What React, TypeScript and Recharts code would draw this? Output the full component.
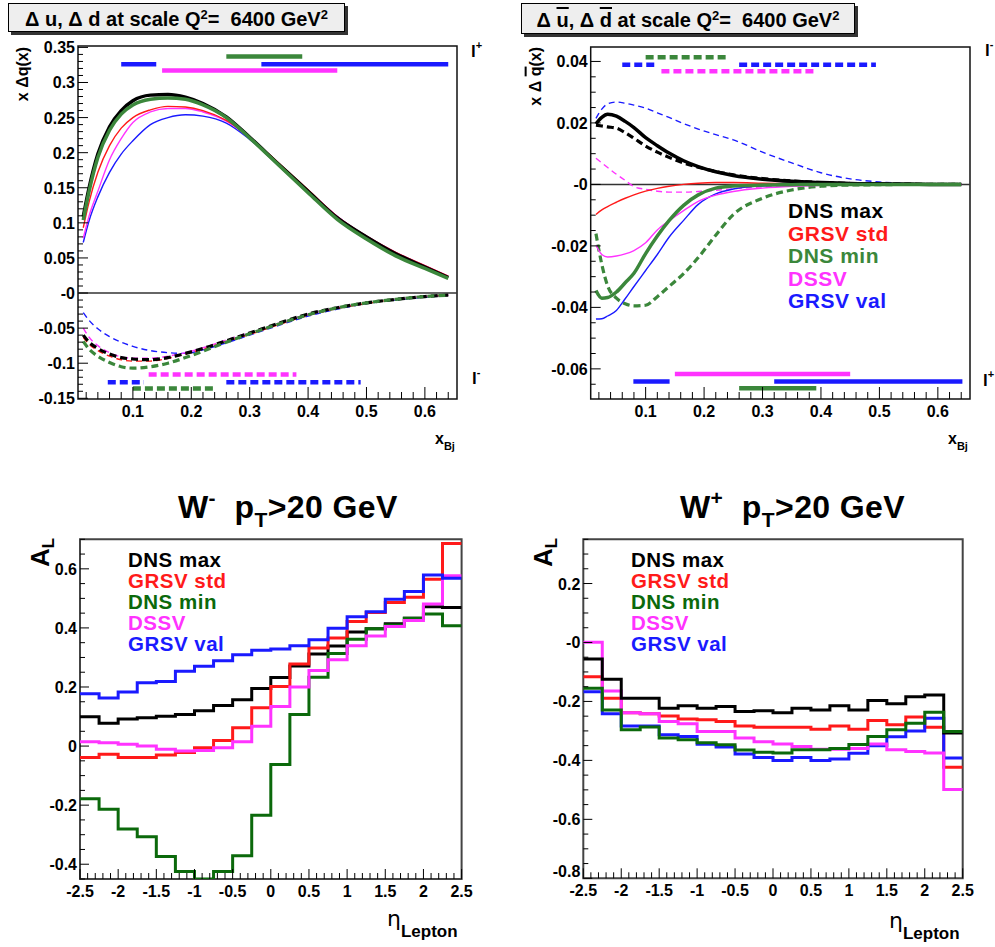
import React from 'react';
import { LineChart, Line, XAxis, YAxis, ReferenceLine, ReferenceArea } from 'recharts';

const FONT = '"Liberation Sans", Arial, Helvetica, sans-serif';

const C_DNSMAX = '#000000';
const C_GRSVSTD = '#ff1a1a';
const C_DNSMIN_TOP = '#3b873b';
const C_DNSMIN_BOT = '#0b690b';
const C_DSSV = '#ff33ff';
const C_GRSVVAL = '#1a1aff';

const LEGEND_NAMES = ['DNS max', 'GRSV std', 'DNS min', 'DSSV', 'GRSV val'];

// ---------------- Top-left: x Δu (solid) and x Δd (dashed) ----------------
const TL_X = [0.015, 0.025, 0.04, 0.06, 0.08, 0.1, 0.13, 0.16, 0.19, 0.22, 0.26, 0.3, 0.35, 0.4, 0.45, 0.5, 0.55, 0.6, 0.64];
const TL_U_DNSMAX = [0.109, 0.15, 0.198, 0.237, 0.26, 0.274, 0.282, 0.283, 0.279, 0.27, 0.251, 0.222, 0.183, 0.145, 0.107, 0.08, 0.056, 0.037, 0.022];
const TL_U_DNSMIN = [0.104, 0.145, 0.193, 0.232, 0.255, 0.268, 0.276, 0.278, 0.276, 0.268, 0.25, 0.221, 0.182, 0.143, 0.105, 0.077, 0.053, 0.035, 0.021];
const TL_U_GRSVSTD = [0.093, 0.13, 0.172, 0.21, 0.235, 0.25, 0.261, 0.266, 0.265, 0.26, 0.246, 0.222, 0.185, 0.147, 0.109, 0.081, 0.058, 0.039, 0.024];
const TL_U_DSSV = [0.078, 0.11, 0.145, 0.19, 0.22, 0.243, 0.258, 0.263, 0.263, 0.258, 0.245, 0.221, 0.184, 0.146, 0.109, 0.081, 0.058, 0.039, 0.024];
const TL_U_GRSVVAL = [0.072, 0.103, 0.137, 0.172, 0.198, 0.217, 0.24, 0.25, 0.254, 0.252, 0.242, 0.219, 0.183, 0.146, 0.109, 0.08, 0.057, 0.038, 0.023];
const TL_D_DNSMAX = [-0.06, -0.07, -0.079, -0.087, -0.092, -0.094, -0.095, -0.092, -0.086, -0.079, -0.068, -0.057, -0.043, -0.03, -0.021, -0.014, -0.009, -0.005, -0.003];
const TL_D_GRSVSTD = [-0.063, -0.073, -0.082, -0.09, -0.095, -0.097, -0.097, -0.093, -0.087, -0.08, -0.069, -0.059, -0.045, -0.032, -0.022, -0.015, -0.009, -0.005, -0.003];
const TL_D_DSSV = [-0.05, -0.063, -0.075, -0.085, -0.091, -0.093, -0.093, -0.09, -0.085, -0.078, -0.067, -0.056, -0.043, -0.03, -0.021, -0.014, -0.009, -0.005, -0.003];
const TL_D_GRSVVAL = [-0.028, -0.039, -0.051, -0.062, -0.07, -0.076, -0.082, -0.085, -0.086, -0.081, -0.071, -0.06, -0.046, -0.033, -0.023, -0.015, -0.01, -0.006, -0.003];
const TL_D_DNSMIN = [-0.069, -0.08, -0.09, -0.099, -0.105, -0.107, -0.105, -0.1, -0.092, -0.083, -0.07, -0.058, -0.044, -0.031, -0.021, -0.014, -0.009, -0.005, -0.003];

// sensitivity ranges [from, to, level]
const TL_LP_GRSVVAL = [[0.08, 0.14, 0.326], [0.32, 0.64, 0.326]];
const TL_LP_DNSMIN = [[0.26, 0.39, 0.337]];
const TL_LP_DSSV = [[0.15, 0.45, 0.317]];
const TL_LM_DSSV = [[0.127, 0.38, -0.116]];
const TL_LM_GRSVVAL = [[0.057, 0.119, -0.127], [0.26, 0.49, -0.127]];
const TL_LM_DNSMIN = [[0.1, 0.24, -0.136]];

// ---------------- Top-right: x Δū (solid) and x Δd̄ (dashed) ----------------
const TR_X = [0.015, 0.025, 0.035, 0.05, 0.065, 0.08, 0.1, 0.12, 0.14, 0.165, 0.19, 0.22, 0.25, 0.3, 0.35, 0.4, 0.45, 0.5, 0.55, 0.6, 0.64];
const TR_UB_DNSMAX = [0.0197, 0.0218, 0.0228, 0.0222, 0.0205, 0.0185, 0.0152, 0.0126, 0.0102, 0.0077, 0.0058, 0.0041, 0.0029, 0.0017, 0.001, 0.0006, 0.0003, 0.0002, 0.0001, 0, 0];
const TR_UB_GRSVSTD = [-0.0098, -0.0083, -0.0072, -0.0058, -0.0045, -0.0034, -0.0022, -0.0013, -0.0006, 0, 0.0004, 0.0006, 0.0006, 0.0004, 0.0002, 0.0001, 0, 0, 0, 0, 0];
const TR_UB_DNSMIN = [-0.0345, -0.037, -0.0368, -0.035, -0.032, -0.0289, -0.0225, -0.0168, -0.0118, -0.0068, -0.0034, -0.0012, -0.0005, -0.0002, -0.0001, 0, 0, 0, 0, 0, 0];
const TR_UB_DSSV = [-0.0198, -0.0228, -0.0236, -0.0233, -0.0226, -0.0215, -0.019, -0.0148, -0.0118, -0.0085, -0.0055, -0.0035, -0.0023, -0.0012, -0.0006, -0.0003, -0.0001, 0, 0, 0, 0];
const TR_UB_GRSVVAL = [-0.0438, -0.0437, -0.0428, -0.041, -0.0372, -0.0332, -0.028, -0.0228, -0.0172, -0.0117, -0.0065, -0.0031, -0.0015, -0.0005, -0.0002, -0.0001, 0, 0, 0, 0, 0];
const TR_DB_DNSMAX = [0.0193, 0.019, 0.0187, 0.0183, 0.0168, 0.015, 0.0125, 0.0105, 0.0088, 0.007, 0.0056, 0.0042, 0.0031, 0.0019, 0.0011, 0.0006, 0.0003, 0.0002, 0.0001, 0, 0];
const TR_DB_DNSMIN = [-0.016, -0.026, -0.033, -0.037, -0.0388, -0.0395, -0.0393, -0.0365, -0.0332, -0.029, -0.0238, -0.0165, -0.0098, -0.0045, -0.0018, -0.0006, -0.0002, -0.0001, 0, 0, 0];
const TR_DB_DSSV = [0.0085, 0.007, 0.0055, 0.0033, 0.0013, -0.0007, -0.0016, -0.0022, -0.0025, -0.0025, -0.0023, -0.0019, -0.0014, -0.0008, -0.0004, -0.0002, -0.0001, 0, 0, 0, 0];
const TR_DB_GRSVVAL = [0.0215, 0.0245, 0.0262, 0.0268, 0.0264, 0.0258, 0.0248, 0.0233, 0.0218, 0.0198, 0.018, 0.0162, 0.0145, 0.0105, 0.007, 0.0038, 0.0018, 0.0008, 0.0003, 0.0001, 0];

const TR_LM_DNSMIN = [[0.1, 0.24, 0.0414]];
const TR_LM_GRSVVAL = [[0.06, 0.12, 0.0389], [0.26, 0.494, 0.0389]];
const TR_LM_DSSV = [[0.127, 0.392, 0.0368]];
const TR_LP_DSSV = [[0.15, 0.45, -0.0617]];
const TR_LP_GRSVVAL = [[0.079, 0.141, -0.0641], [0.32, 0.642, -0.0641]];
const TR_LP_DNSMIN = [[0.26, 0.392, -0.0663]];

// ---------------- Bottom: A_L vs eta (20 bins) ----------------
const ETA_EDGES = [-2.5, -2.25, -2, -1.75, -1.5, -1.25, -1, -0.75, -0.5, -0.25, 0, 0.25, 0.5, 0.75, 1, 1.25, 1.5, 1.75, 2, 2.25, 2.5];

const WM_DNSMAX = [0.099, 0.077, 0.092, 0.096, 0.101, 0.107, 0.12, 0.137, 0.157, 0.195, 0.232, 0.271, 0.312, 0.339, 0.386, 0.397, 0.414, 0.433, 0.472, 0.469];
const WM_GRSVSTD = [-0.039, -0.028, -0.039, -0.039, -0.03, -0.022, -0.006, 0.019, 0.062, 0.13, 0.202, 0.278, 0.332, 0.366, 0.422, 0.452, 0.486, 0.504, 0.565, 0.686];
const WM_DNSMIN = [-0.178, -0.214, -0.281, -0.307, -0.374, -0.425, -0.45, -0.425, -0.371, -0.234, -0.062, 0.107, 0.233, 0.313, 0.362, 0.397, 0.41, 0.433, 0.447, 0.407];
const WM_DSSV = [0.015, 0.011, 0.006, 0, -0.011, -0.017, -0.015, -0.006, 0.015, 0.067, 0.134, 0.2, 0.256, 0.292, 0.34, 0.373, 0.405, 0.425, 0.481, 0.577];
const WM_GRSVVAL = [0.177, 0.163, 0.183, 0.214, 0.219, 0.253, 0.27, 0.289, 0.309, 0.324, 0.329, 0.34, 0.36, 0.399, 0.438, 0.455, 0.497, 0.523, 0.579, 0.568];

const WP_DNSMAX = [-0.056, -0.125, -0.189, -0.189, -0.223, -0.215, -0.223, -0.217, -0.234, -0.232, -0.238, -0.223, -0.229, -0.215, -0.229, -0.197, -0.208, -0.184, -0.178, -0.307];
const WP_GRSVSTD = [-0.116, -0.189, -0.238, -0.242, -0.249, -0.26, -0.262, -0.268, -0.283, -0.288, -0.288, -0.288, -0.294, -0.283, -0.294, -0.265, -0.279, -0.253, -0.288, -0.423];
const WP_DNSMIN = [-0.155, -0.229, -0.296, -0.287, -0.324, -0.33, -0.34, -0.347, -0.365, -0.372, -0.375, -0.364, -0.364, -0.36, -0.346, -0.319, -0.296, -0.274, -0.237, -0.302];
const WP_DSSV = [0.001, -0.165, -0.238, -0.242, -0.268, -0.276, -0.302, -0.302, -0.324, -0.337, -0.344, -0.353, -0.362, -0.362, -0.36, -0.344, -0.364, -0.37, -0.375, -0.499];
const WP_GRSVVAL = [-0.167, -0.242, -0.283, -0.283, -0.313, -0.319, -0.345, -0.355, -0.378, -0.39, -0.4, -0.39, -0.4, -0.395, -0.376, -0.35, -0.32, -0.3, -0.257, -0.392];

// ---------------- Axis tick labels ----------------
const TL_YMAJ = [-0.15, -0.1, -0.05, 0, 0.05, 0.1, 0.15, 0.2, 0.25, 0.3, 0.35];
const TL_YLAB = ['-0.15', '-0.1', '-0.05', '-0', '0.05', '0.1', '0.15', '0.2', '0.25', '0.3', '0.35'];
const TOP_XMAJ = [0.1, 0.2, 0.3, 0.4, 0.5, 0.6];
const TOP_XLAB = ['0.1', '0.2', '0.3', '0.4', '0.5', '0.6'];
const TR_YMAJ = [-0.06, -0.04, -0.02, 0, 0.02, 0.04];
const TR_YLAB = ['-0.06', '-0.04', '-0.02', '-0', '0.02', '0.04'];
const BL_YMAJ = [-0.4, -0.2, 0, 0.2, 0.4, 0.6];
const BL_YLAB = ['-0.4', '-0.2', '0', '0.2', '0.4', '0.6'];
const BR_YMAJ = [-0.8, -0.6, -0.4, -0.2, 0, 0.2];
const BR_YLAB = ['-0.8', '-0.6', '-0.4', '-0.2', '-0', '0.2'];
const ETA_MAJ = [-2.5, -2, -1.5, -1, -0.5, 0, 0.5, 1, 1.5, 2, 2.5];
const ETA_LAB = ['-2.5', '-2', '-1.5', '-1', '-0.5', '0', '0.5', '1', '1.5', '2', '2.5'];

const TL_XD: [number, number] = [0.006, 0.655];
const TL_YD: [number, number] = [-0.151, 0.352];
const TR_YD: [number, number] = [-0.0698, 0.0447];
const ETA_D: [number, number] = [-2.5, 2.5];
const BL_YD: [number, number] = [-0.45, 0.7];
const BR_YD: [number, number] = [-0.8, 0.35];

const steps = (a: number, b: number, s: number) => {
  const out: number[] = [];
  const n = Math.round((b - a) / s);
  for (let i = 0; i <= n; i++) out.push(+(a + i * s).toFixed(6));
  return out;
};

const findMaj = (maj: number[], v: number) => maj.findIndex((m) => Math.abs(m - v) < 1e-7);

const yTick = (maj: number[], lab: string[], majLen: number, minLen: number, liftFirst = false) => (p: any) => {
  const v = Number(p.payload && p.payload.value);
  const i = findMaj(maj, v);
  const base = liftFirst && i === 0 ? p.y - 1 : p.y + 6;
  return (
    <g>
      <line x1={p.x} x2={p.x + (i >= 0 ? majLen : minLen)} y1={p.y} y2={p.y} stroke="#000" strokeWidth={1} />
      {i >= 0 ? (
        <text x={p.x - 3} y={base} textAnchor="end" fill="#000" style={{ fontFamily: FONT, fontWeight: 700, fontSize: 16 }}>
          {lab[i]}
        </text>
      ) : null}
    </g>
  );
};

const xTick = (maj: number[], lab: string[], majLen: number, minLen: number) => (p: any) => {
  const v = Number(p.payload && p.payload.value);
  const i = findMaj(maj, v);
  return (
    <g>
      <line x1={p.x} x2={p.x} y1={p.y} y2={p.y - (i >= 0 ? majLen : minLen)} stroke="#000" strokeWidth={1} />
      {i >= 0 ? (
        <text x={p.x} y={p.y + 18} textAnchor="middle" fill="#000" style={{ fontFamily: FONT, fontWeight: 700, fontSize: 16 }}>
          {lab[i]}
        </text>
      ) : null}
    </g>
  );
};

const rangeLines = (key: string, segs: number[][], color: string, dashed: boolean) =>
  segs.map((s, i) => (
    <Line
      key={`${key}-${i}`}
      data={[{ x: s[0], v: s[2] }, { x: s[1], v: s[2] }]}
      dataKey="v"
      type="linear"
      stroke={color}
      strokeWidth={4.5}
      strokeDasharray={dashed ? '8 4' : undefined}
      dot={false}
      activeDot={false}
      isAnimationActive={false}
    />
  ));

const curve = (key: string, color: string, width: number, dash?: string) => (
  <Line
    key={key}
    dataKey={key}
    type="monotone"
    stroke={color}
    strokeWidth={width}
    strokeDasharray={dash}
    dot={false}
    activeDot={false}
    isAnimationActive={false}
  />
);

const step = (key: string, color: string) => (
  <Line
    key={key}
    dataKey={key}
    type="stepAfter"
    stroke={color}
    strokeWidth={3}
    dot={false}
    activeDot={false}
    isAnimationActive={false}
  />
);

const tlRows = TL_X.map((x, i) => ({
  x,
  uMax: TL_U_DNSMAX[i], uMin: TL_U_DNSMIN[i], uStd: TL_U_GRSVSTD[i], uDssv: TL_U_DSSV[i], uVal: TL_U_GRSVVAL[i],
  dMax: TL_D_DNSMAX[i], dMin: TL_D_DNSMIN[i], dStd: TL_D_GRSVSTD[i], dDssv: TL_D_DSSV[i], dVal: TL_D_GRSVVAL[i],
}));

const trRows = TR_X.map((x, i) => ({
  x,
  uMax: TR_UB_DNSMAX[i], uMin: TR_UB_DNSMIN[i], uStd: TR_UB_GRSVSTD[i], uDssv: TR_UB_DSSV[i], uVal: TR_UB_GRSVVAL[i],
  dMax: TR_DB_DNSMAX[i], dMin: TR_DB_DNSMIN[i], dDssv: TR_DB_DSSV[i], dVal: TR_DB_GRSVVAL[i],
}));

const histRows = (a: number[], b: number[], c: number[], d: number[], e: number[]) =>
  ETA_EDGES.map((x, k) => {
    const j = Math.min(k, 19);
    return { x, max: a[j], std: b[j], min: c[j], dssv: d[j], val: e[j] };
  });

const wmRows = histRows(WM_DNSMAX, WM_GRSVSTD, WM_DNSMIN, WM_DSSV, WM_GRSVVAL);
const wpRows = histRows(WP_DNSMAX, WP_GRSVSTD, WP_DNSMIN, WP_DSSV, WP_GRSVVAL);

const axisCommon = { tickSize: 0, tickMargin: 0, axisLine: false, tickLine: false, interval: 0 as const, allowDataOverflow: true };

function RotLabel({ x, top, size, children }: { x: number; top: number; size: number; children: React.ReactNode }) {
  return (
    <div style={{ position: 'absolute', left: x, top, width: 0, height: 0 }}>
      <div
        style={{
          position: 'absolute', right: 0, top: 0, whiteSpace: 'nowrap', transform: 'rotate(-90deg)', transformOrigin: 'right top',
          fontFamily: FONT, fontWeight: 700, fontSize: size, lineHeight: `${size}px`, color: '#000',
        }}
      >
        {children}
      </div>
    </div>
  );
}

const supStyle: React.CSSProperties = { fontSize: '0.65em', lineHeight: 0, verticalAlign: '0.55em' };
const subStyle: React.CSSProperties = { fontSize: '0.65em', lineHeight: 0, verticalAlign: '-0.3em' };

function Legend({ x, baselines, colors, size }: { x: number; baselines: number[]; colors: string[]; size: number }) {
  return (
    <g>
      {LEGEND_NAMES.map((n, i) => (
        <text key={n} x={x} y={baselines[i]} fill={colors[i]} style={{ fontFamily: FONT, fontWeight: 700, fontSize: size, letterSpacing: 0.5 }}>
          {n}
        </text>
      ))}
    </g>
  );
}

export default function App() {
  const txt = { fontFamily: FONT, fontWeight: 700 } as React.CSSProperties;
  return (
    <div style={{ position: 'absolute', left: 0, top: 0, width: 995, height: 947, background: '#fff', overflow: 'hidden' }}>
      {/* ---------- Top-left ---------- */}
      <div style={{ position: 'absolute', left: 0, top: 0 }}>
        <LineChart width={490} height={460} data={tlRows} margin={{ top: 46, right: 33, bottom: 60, left: 77 }}>
          <XAxis type="number" dataKey="x" domain={TL_XD} ticks={steps(0.02, 0.64, 0.02)} height={1} tick={xTick(TOP_XMAJ, TOP_XLAB, 12, 7)} {...axisCommon} />
          <YAxis type="number" domain={TL_YD} ticks={steps(-0.15, 0.35, 0.01)} width={1} tick={yTick(TL_YMAJ, TL_YLAB, 10, 5)} {...axisCommon} />
          <ReferenceLine y={0} stroke="#333" strokeWidth={1.5} />
          {curve('dVal', C_GRSVVAL, 1.4, '6 4')}
          {curve('dDssv', C_DSSV, 1.4, '6 4')}
          {curve('dStd', C_GRSVSTD, 1.4, '6 4')}
          {curve('dMax', C_DNSMAX, 3.2, '7 4')}
          {curve('dMin', C_DNSMIN_TOP, 3.2, '7 4')}
          {curve('uVal', C_GRSVVAL, 1.4)}
          {curve('uDssv', C_DSSV, 1.4)}
          {curve('uStd', C_GRSVSTD, 1.4)}
          {curve('uMax', C_DNSMAX, 3.5)}
          {curve('uMin', C_DNSMIN_TOP, 3.5)}
          {rangeLines('tlpv', TL_LP_GRSVVAL, C_GRSVVAL, false)}
          {rangeLines('tlpm', TL_LP_DNSMIN, C_DNSMIN_TOP, false)}
          {rangeLines('tlpd', TL_LP_DSSV, C_DSSV, false)}
          {rangeLines('tlmd', TL_LM_DSSV, C_DSSV, true)}
          {rangeLines('tlmv', TL_LM_GRSVVAL, C_GRSVVAL, true)}
          {rangeLines('tlmm', TL_LM_DNSMIN, C_DNSMIN_TOP, true)}
          <ReferenceArea x1={TL_XD[0]} x2={TL_XD[1]} y1={TL_YD[0]} y2={TL_YD[1]} fill="none" fillOpacity={0} stroke="#111" strokeWidth={1.5} ifOverflow="visible" />
        </LineChart>
      </div>

      {/* ---------- Top-right ---------- */}
      <div style={{ position: 'absolute', left: 500, top: 0 }}>
        <LineChart width={495} height={460} data={trRows} margin={{ top: 47, right: 25, bottom: 60, left: 89.7 }}>
          <XAxis type="number" dataKey="x" domain={TL_XD} ticks={steps(0.02, 0.64, 0.02)} height={1} tick={xTick(TOP_XMAJ, TOP_XLAB, 12, 7)} {...axisCommon} />
          <YAxis type="number" domain={TR_YD} ticks={steps(-0.065, 0.04, 0.005)} width={1} tick={yTick(TR_YMAJ, TR_YLAB, 10, 5)} {...axisCommon} />
          <ReferenceLine y={0} stroke="#333" strokeWidth={1.5} />
          {curve('dVal', C_GRSVVAL, 1.4, '6 4')}
          {curve('dDssv', C_DSSV, 1.4, '6 4')}
          {curve('dMax', C_DNSMAX, 3.2, '7 4')}
          {curve('dMin', C_DNSMIN_TOP, 3.2, '7 4')}
          {curve('uVal', C_GRSVVAL, 1.4)}
          {curve('uDssv', C_DSSV, 1.4)}
          {curve('uStd', C_GRSVSTD, 1.4)}
          {curve('uMax', C_DNSMAX, 3.5)}
          {curve('uMin', C_DNSMIN_TOP, 3.5)}
          {rangeLines('trmm', TR_LM_DNSMIN, C_DNSMIN_TOP, true)}
          {rangeLines('trmv', TR_LM_GRSVVAL, C_GRSVVAL, true)}
          {rangeLines('trmd', TR_LM_DSSV, C_DSSV, true)}
          {rangeLines('trpd', TR_LP_DSSV, C_DSSV, false)}
          {rangeLines('trpv', TR_LP_GRSVVAL, C_GRSVVAL, false)}
          {rangeLines('trpm', TR_LP_DNSMIN, C_DNSMIN_TOP, false)}
          <ReferenceArea x1={TL_XD[0]} x2={TL_XD[1]} y1={TR_YD[0]} y2={TR_YD[1]} fill="none" fillOpacity={0} stroke="#111" strokeWidth={1.5} ifOverflow="visible" />
        </LineChart>
      </div>

      {/* ---------- Bottom-left: W- ---------- */}
      <div style={{ position: 'absolute', left: 0, top: 480 }}>
        <LineChart width={490} height={467} data={wmRows} margin={{ top: 59.3, right: 28.4, bottom: 67, left: 79 }}>
          <XAxis type="number" dataKey="x" domain={ETA_D} ticks={steps(-2.5, 2.5, 0.1)} height={1} tick={xTick(ETA_MAJ, ETA_LAB, 10, 6)} {...axisCommon} />
          <YAxis type="number" domain={BL_YD} ticks={steps(-0.45, 0.7, 0.05)} width={1} tick={yTick(BL_YMAJ, BL_YLAB, 9, 5)} {...axisCommon} />
          {step('max', C_DNSMAX)}
          {step('std', C_GRSVSTD)}
          {step('min', C_DNSMIN_BOT)}
          {step('dssv', C_DSSV)}
          {step('val', C_GRSVVAL)}
          <ReferenceArea x1={ETA_D[0]} x2={ETA_D[1]} y1={BL_YD[0]} y2={BL_YD[1]} fill="none" fillOpacity={0} stroke="#444" strokeWidth={2} ifOverflow="visible" />
        </LineChart>
      </div>

      {/* ---------- Bottom-right: W+ ---------- */}
      <div style={{ position: 'absolute', left: 500, top: 480 }}>
        <LineChart width={495} height={467} data={wpRows} margin={{ top: 59.3, right: 32.3, bottom: 67.7, left: 82.3 }}>
          <XAxis type="number" dataKey="x" domain={ETA_D} ticks={steps(-2.5, 2.5, 0.1)} height={1} tick={xTick(ETA_MAJ, ETA_LAB, 10, 6)} {...axisCommon} />
          <YAxis type="number" domain={BR_YD} ticks={steps(-0.8, 0.35, 0.05)} width={1} tick={yTick(BR_YMAJ, BR_YLAB, 9, 5, true)} {...axisCommon} />
          {step('std', C_GRSVSTD)}
          {step('val', C_GRSVVAL)}
          {step('dssv', C_DSSV)}
          {step('max', C_DNSMAX)}
          {step('min', C_DNSMIN_BOT)}
          <ReferenceArea x1={ETA_D[0]} x2={ETA_D[1]} y1={BR_YD[0]} y2={BR_YD[1]} fill="none" fillOpacity={0} stroke="#444" strokeWidth={2} ifOverflow="visible" />
        </LineChart>
      </div>

      {/* ---------- text overlay ---------- */}
      <svg width={995} height={947} style={{ position: 'absolute', left: 0, top: 0, pointerEvents: 'none' }}>
        {/* x_Bj */}
        <text x={435} y={444} style={{ ...txt, fontSize: 16 }}>x<tspan dy={6} fontSize={11}>Bj</tspan></text>
        <text x={948} y={444} style={{ ...txt, fontSize: 16 }}>x<tspan dy={6} fontSize={11}>Bj</tspan></text>
        {/* l+ / l- */}
        <text x={471} y={57} style={{ ...txt, fontSize: 17 }}>l<tspan dy={-8} fontSize={11}>+</tspan></text>
        <text x={472} y={384} style={{ ...txt, fontSize: 17 }}>l<tspan dy={-8} fontSize={11}>-</tspan></text>
        <text x={985} y={56} style={{ ...txt, fontSize: 17 }}>l<tspan dy={-8} fontSize={11}>-</tspan></text>
        <text x={983} y={386} style={{ ...txt, fontSize: 17 }}>l<tspan dy={-8} fontSize={11}>+</tspan></text>
        {/* legends */}
        <Legend x={788} size={21} baselines={[218, 240.5, 263, 285.5, 308]} colors={[C_DNSMAX, C_GRSVSTD, C_DNSMIN_TOP, C_DSSV, C_GRSVVAL]} />
        <Legend x={128} size={20.5} baselines={[567, 588, 609, 630, 651]} colors={[C_DNSMAX, C_GRSVSTD, C_DNSMIN_BOT, C_DSSV, C_GRSVVAL]} />
        <Legend x={631} size={20.5} baselines={[567, 588, 609, 630, 651]} colors={[C_DNSMAX, C_GRSVSTD, C_DNSMIN_BOT, C_DSSV, C_GRSVVAL]} />
        {/* bottom titles */}
        <text x={178} y={518} style={{ ...txt, fontSize: 32, letterSpacing: 0.4 }}>
          W<tspan dy={-13} fontSize={21}>-</tspan><tspan dy={13}>{'\u00a0\u00a0p'}</tspan><tspan dy={9} fontSize={21}>T</tspan><tspan dy={-9}>{'>20 GeV'}</tspan>
        </text>
        <text x={680} y={518} style={{ ...txt, fontSize: 32, letterSpacing: 0.4 }}>
          W<tspan dy={-13} fontSize={21}>+</tspan><tspan dy={13}>{'\u00a0\u00a0p'}</tspan><tspan dy={9} fontSize={21}>T</tspan><tspan dy={-9}>{'>20 GeV'}</tspan>
        </text>
        {/* eta_Lepton */}
        <text x={387} y={926} style={{ fontFamily: '"DejaVu Sans", sans-serif', fontSize: 22 }}>
          η<tspan dy={11} style={{ fontFamily: FONT, fontWeight: 700, fontSize: 17 }}>Lepton</tspan>
        </text>
        <text x={889} y={928} style={{ fontFamily: '"DejaVu Sans", sans-serif', fontSize: 22 }}>
          η<tspan dy={11} style={{ fontFamily: FONT, fontWeight: 700, fontSize: 17 }}>Lepton</tspan>
        </text>
      </svg>

      {/* ---------- title boxes ---------- */}
      <div style={{ position: 'absolute', left: 8, top: 3, width: 337, height: 29, boxSizing: 'border-box', border: '1px solid #000', background: '#eeeeee', boxShadow: '3px 3px 0 #333', display: 'flex', alignItems: 'center', justifyContent: 'center', fontFamily: FONT, fontWeight: 700, fontSize: 20, whiteSpace: 'pre', paddingTop: 3 }}>
        <span>Δ u, Δ d at scale Q<sup style={supStyle}>2</sup>=  6400 GeV<sup style={supStyle}>2</sup></span>
      </div>
      <div style={{ position: 'absolute', left: 521, top: 3, width: 334, height: 31, boxSizing: 'border-box', border: '1px solid #000', background: '#eeeeee', boxShadow: '3px 3px 0 #333', display: 'flex', alignItems: 'center', justifyContent: 'center', fontFamily: FONT, fontWeight: 700, fontSize: 20, whiteSpace: 'pre', paddingTop: 3 }}>
        <span>Δ <span style={{ textDecoration: 'overline', textDecorationThickness: 2 }}>u</span>, Δ <span style={{ textDecoration: 'overline', textDecorationThickness: 2 }}>d</span> at scale Q<sup style={supStyle}>2</sup>=  6400 GeV<sup style={supStyle}>2</sup></span>
      </div>

      {/* ---------- rotated y titles ---------- */}
      <RotLabel x={15} top={47} size={16}>x Δq(x)</RotLabel>
      <RotLabel x={528} top={47} size={16}>
        <span>x Δ <span style={{ textDecoration: 'overline', textDecorationThickness: 2 }}>q</span>(x)</span>
      </RotLabel>
      <RotLabel x={27} top={538} size={26}>A<sub style={subStyle}>L</sub></RotLabel>
      <RotLabel x={530} top={538} size={26}>A<sub style={subStyle}>L</sub></RotLabel>
    </div>
  );
}
